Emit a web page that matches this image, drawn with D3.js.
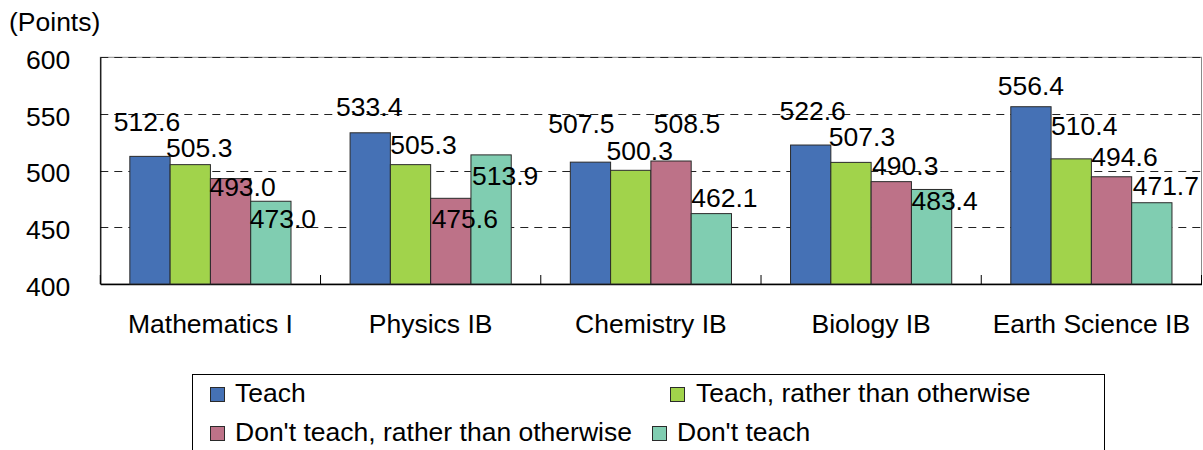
<!DOCTYPE html>
<html>
<head>
<meta charset="utf-8">
<script src="https://cdn.jsdelivr.net/npm/d3@7"></script>
<style>
  html, body { margin: 0; padding: 0; background: #fff; }
  svg { display: block; font-family: "Liberation Sans", Arial, sans-serif; }
</style>
</head>
<body>
<svg id="chart" width="1203" height="450"></svg>
<script>
// ---- data ----
const categories = ["Mathematics I", "Physics IB", "Chemistry IB", "Biology IB", "Earth Science IB"];
const seriesNames = ["Teach", "Teach, rather than otherwise", "Don't teach, rather than otherwise", "Don't teach"];
const teach           = [512.6, 533.4, 507.5, 522.6, 556.4];
const teachRather     = [505.3, 505.3, 500.3, 507.3, 510.4];
const dontTeachRather = [493.0, 475.6, 508.5, 490.3, 494.6];
const dontTeach       = [473.0, 513.9, 462.1, 483.4, 471.7];
const yTicks = [400, 450, 500, 550, 600];
const yLabel = "(Points)";

// ---- styles / layout (not data) ----
const colors = ["#4571b5", "#a1d34b", "#bd7288", "#80cdb1"];
// manual label nudges (px) relative to bar-top centre, as placed in the original
const labelNudgeX = [
  [-3, 9, 12, 12], [-1, 13, 14, 14], [-9, 9, 16, 13], [2, 11, 14, 13], [0, 13, 13, 14]
];
const labelNudgeY = [
  [-35, -17, 8, 17], [-26, -20, 20, 21], [-39, -20, -38, -16], [-35, -26, -16, 11], [-21, -33, -20, -17]
];

const series = [teach, teachRather, dontTeachRather, dontTeach];
const FONT = 26.5;
const plot = { left: 100.3, right: 1201.5, top: 57.3, bottom: 284 };

const svg = d3.select("#chart");

const x0 = d3.scaleBand().domain(categories).range([plot.left, plot.right]).padding(0);
const x1 = d3.scaleBand().domain(seriesNames).range([0, x0.bandwidth()])
  .paddingInner(0).paddingOuter(0.733);
const y = d3.scaleLinear().domain([400, 600]).range([plot.bottom, plot.top]);

// plot border (light)
svg.append("rect")
  .attr("x", plot.left).attr("y", plot.top)
  .attr("width", plot.right - plot.left).attr("height", plot.bottom - plot.top)
  .attr("fill", "none").attr("stroke", "#8a8a8a").attr("stroke-width", 1);

// gridlines
svg.append("g").selectAll("line")
  .data(yTicks.filter(t => t > 400))
  .join("line")
  .attr("x1", plot.left).attr("x2", plot.right)
  .attr("y1", d => Math.round(y(d)) + 0.5).attr("y2", d => Math.round(y(d)) + 0.5)
  .attr("stroke", "#222").attr("stroke-width", 1)
  .attr("stroke-dasharray", "8,6");

// y axis
const yAxis = d3.axisLeft(y).tickValues(yTicks).tickSize(0).tickPadding(30).tickFormat(d3.format("d"));
const gy = svg.append("g").attr("transform", `translate(${plot.left},0)`).call(yAxis);
gy.select(".domain").attr("stroke", "#000").attr("stroke-width", 1.2);
gy.selectAll("text").attr("font-size", FONT).attr("fill", "#000")
  .attr("font-family", "Liberation Sans, Arial, sans-serif").attr("dy", "0.42em");

// x axis
const xAxis = d3.axisBottom(x0).tickSize(0).tickPadding(49);
const gx = svg.append("g").attr("transform", `translate(0,${plot.bottom})`).call(xAxis);
gx.select(".domain").attr("stroke", "#000").attr("stroke-width", 1.5);
gx.selectAll("text").attr("font-size", FONT).attr("fill", "#000")
  .attr("font-family", "Liberation Sans, Arial, sans-serif").attr("dy", "0");
// category separator ticks (inside)
svg.append("g").selectAll("line")
  .data(categories.concat(["__end"]))
  .join("line")
  .attr("x1", (d, i) => plot.left + i * x0.step()).attr("x2", (d, i) => plot.left + i * x0.step())
  .attr("y1", plot.bottom).attr("y2", plot.bottom - 9)
  .attr("stroke", "#000").attr("stroke-width", 1);

// bars
const groups = svg.append("g").selectAll("g")
  .data(categories)
  .join("g")
  .attr("transform", d => `translate(${x0(d)},0)`);

groups.selectAll("rect")
  .data((c, ci) => seriesNames.map((s, si) => ({ s, si, ci, v: series[si][ci] })))
  .join("rect")
  .attr("x", d => x1(d.s))
  .attr("y", d => y(d.v))
  .attr("width", x1.bandwidth())
  .attr("height", d => y(400) - y(d.v))
  .attr("fill", d => colors[d.si])
  .attr("stroke", "#2a2a2a").attr("stroke-width", 1);

// value labels
groups.selectAll("text.val")
  .data((c, ci) => seriesNames.map((s, si) => ({ s, si, ci, v: series[si][ci] })))
  .join("text")
  .attr("class", "val")
  .attr("x", d => x1(d.s) + x1.bandwidth() / 2 + labelNudgeX[d.ci][d.si])
  .attr("y", d => y(d.v) + labelNudgeY[d.ci][d.si])
  .attr("dy", "0.36em")
  .attr("text-anchor", "middle")
  .attr("font-size", FONT).attr("fill", "#000")
  .text(d => d3.format(".1f")(d.v));

// y unit label
svg.append("text").attr("x", 9).attr("y", 31)
  .attr("font-size", FONT).attr("fill", "#000").text(yLabel);

// legend
const legend = svg.append("g");
legend.append("rect").attr("x", 192.5).attr("y", 374.5).attr("width", 912).attr("height", 100)
  .attr("fill", "#fff").attr("stroke", "#000").attr("stroke-width", 1);
const legendPos = [
  { sx: 210, tx: 235, by: 402 },
  { sx: 670, tx: 696, by: 402 },
  { sx: 210, tx: 235, by: 441 },
  { sx: 652, tx: 677, by: 441 }
];
const li = legend.selectAll("g.item").data(seriesNames).join("g").attr("class", "item");
li.append("rect")
  .attr("x", (d, i) => legendPos[i].sx + 0.5).attr("y", (d, i) => legendPos[i].by - 15 + 0.5)
  .attr("width", 14).attr("height", 14)
  .attr("fill", (d, i) => colors[i]).attr("stroke", "#2a2a2a").attr("stroke-width", 1);
li.append("text")
  .attr("x", (d, i) => legendPos[i].tx).attr("y", (d, i) => legendPos[i].by)
  .attr("font-size", FONT).attr("fill", "#000")
  .text(d => d);
</script>
</body>
</html>
